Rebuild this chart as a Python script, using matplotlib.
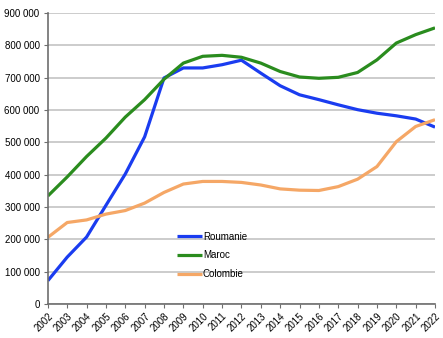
import matplotlib

matplotlib.use("Agg")
import matplotlib.pyplot as plt
from matplotlib.ticker import FuncFormatter

years = list(range(2002, 2023))
roumanie = [72000, 145000, 207000, 305000, 402000, 517000, 699000, 730000, 730000, 740000,
            754000, 714000, 675000, 647000, 632000, 616000, 601000, 590000, 582000, 572000, 547000]
maroc = [334000, 393000, 456000, 513000, 578000, 632000, 695000, 745000, 766000, 769000,
         763000, 745000, 719000, 702000, 698000, 701000, 716000, 755000, 807000, 833000, 854000]
colombie = [206000, 252000, 260000, 278000, 289000, 312000, 345000, 371000, 379000, 379000,
            376000, 368000, 356000, 352000, 351000, 363000, 386000, 425000, 502000, 549000, 570000]
series_names = ["Roumanie", "Maroc", "Colombie"]
series_colors = ["#1a3cf0", "#2a8c1e", "#f5a766"]

plt.rcParams["font.family"] = ["Liberation Sans", "DejaVu Sans"]

fig = plt.figure(figsize=(4.43, 3.38), dpi=100)
ax = fig.add_axes([0.108, 0.1006, 0.874, 0.861])

for name, values, color in zip(series_names, [roumanie, maroc, colombie], series_colors):
    ax.plot(years, values, color=color, linewidth=2.3, label=name, solid_capstyle="butt")

ax.set_xlim(2002, 2022)
ax.set_ylim(0, 900000)
ax.set_yticks(range(0, 900001, 100000))
ax.set_xticks(years)
ax.yaxis.set_major_formatter(FuncFormatter(lambda v, p: f"{int(v):,}".replace(",", " ")))
ax.set_xticklabels([str(y) for y in years], rotation=45, ha="right", rotation_mode="anchor")

ax.grid(axis="y", color="#c4c4c4", linewidth=1.2)
ax.set_axisbelow(True)
for side in ["top", "right"]:
    ax.spines[side].set_visible(False)
for side in ["left", "bottom"]:
    ax.spines[side].set_color("#6e6e6e")
    ax.spines[side].set_linewidth(1.2)
ax.tick_params(axis="y", length=3, labelsize=7, color="#6e6e6e", pad=3)
ax.tick_params(axis="x", length=3, labelsize=7, color="#6e6e6e", pad=2)

ax.legend(loc="upper left", bbox_to_anchor=(0.32, 0.265), frameon=False, fontsize=7,
          handlelength=2.6, handletextpad=0.1, labelspacing=0.9, borderpad=0)

fig.savefig("out.png", dpi=100)
plt.close(fig)
